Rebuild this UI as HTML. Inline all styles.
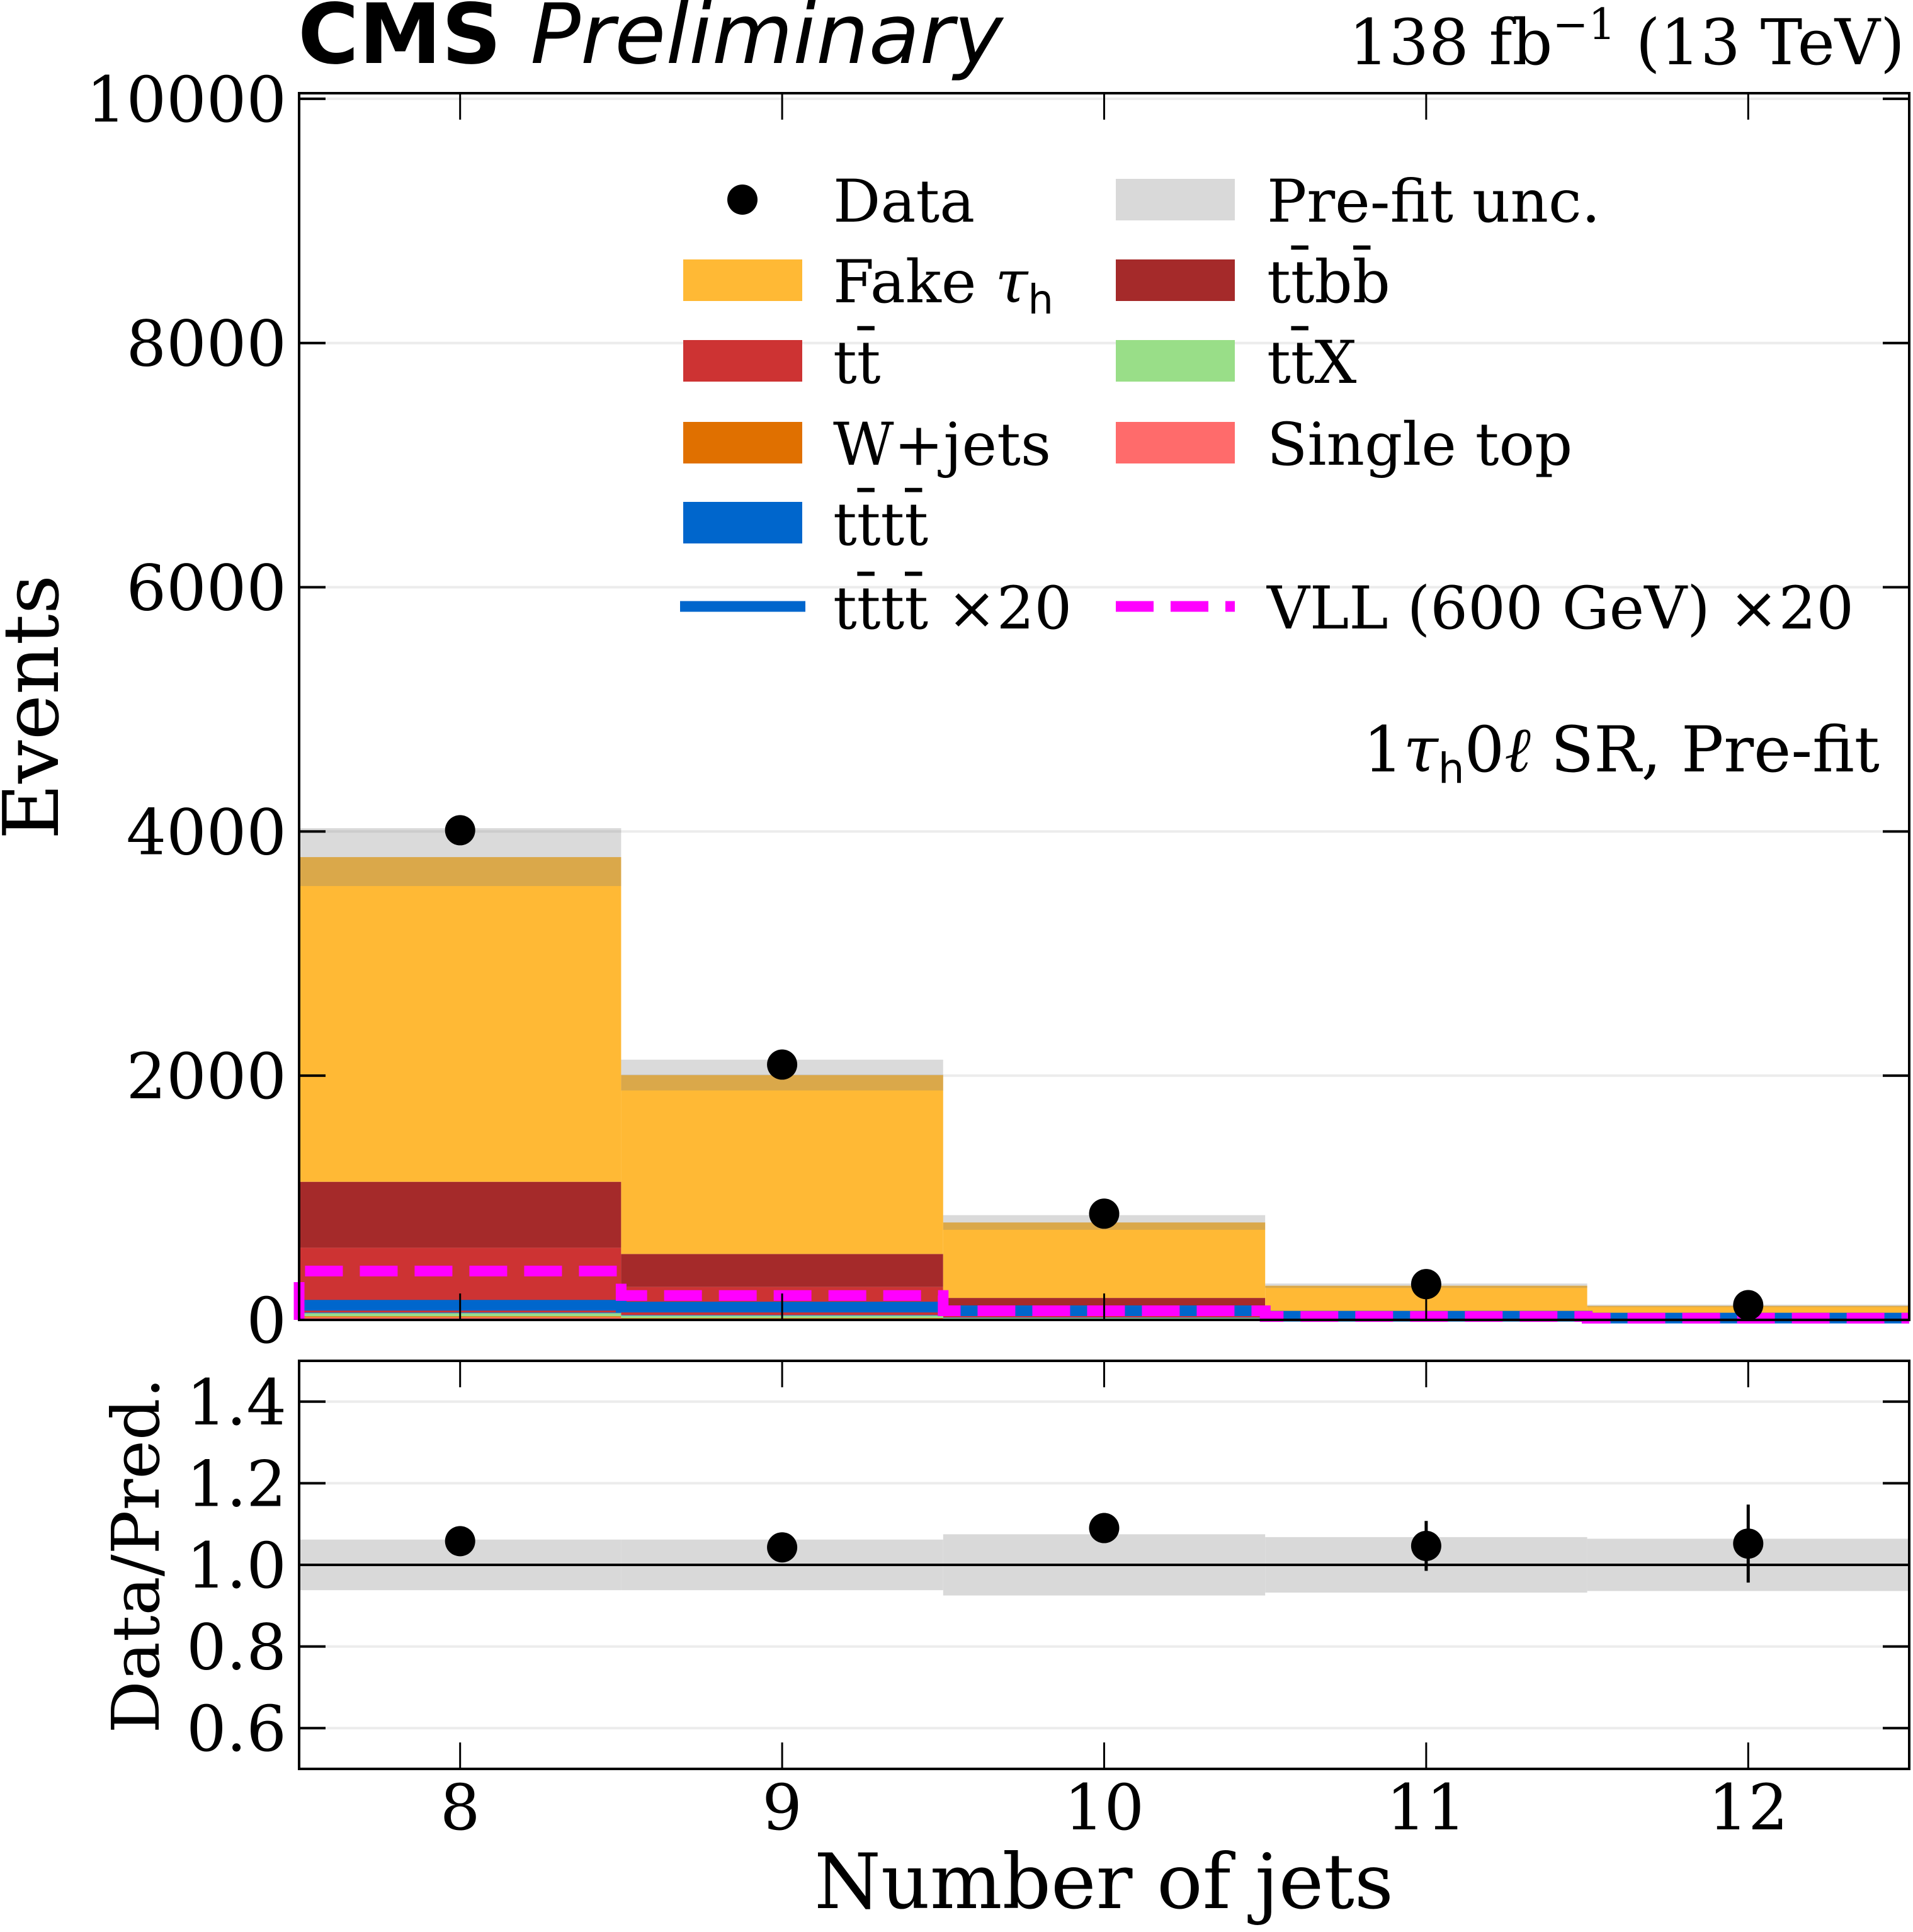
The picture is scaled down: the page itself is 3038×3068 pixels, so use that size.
<!DOCTYPE html>
<html><head><meta charset="utf-8">
<style>
html,body{margin:0;padding:0;background:#fff;}
svg{display:block;}
text{font-family:"DejaVu Serif","Liberation Serif",serif;fill:#000;}
.sans{font-family:"DejaVu Sans","Liberation Sans",sans-serif;}
</style></head>
<body>
<svg id="chart" width="3038" height="3068" viewBox="0 0 3038 3068" xmlns="http://www.w3.org/2000/svg">
<g id="main"></g>
<g id="ratio"></g>
<g id="labels">
<text class="sans" x="473" y="100" font-size="132" font-weight="bold">CMS <tspan font-weight="normal" font-style="italic">Preliminary</tspan></text>
<text x="3025" y="102" font-size="100" text-anchor="end">138 fb<tspan dy="-40" font-size="68">−1</tspan><tspan dy="40"> (13 TeV)</tspan></text>
<text x="2985" y="1225" font-size="100" text-anchor="end">1<tspan font-style="italic">τ</tspan><tspan class="sans" font-size="66" dy="18">h</tspan><tspan dy="-18">0<tspan font-style="italic">ℓ</tspan> SR, Pre-fit</tspan></text>
<text x="0" y="0" font-size="122" text-anchor="middle" transform="translate(92,1123) rotate(-90)">Events</text>
<text x="0" y="0" font-size="104" text-anchor="middle" transform="translate(252,2470) rotate(-90)">Data/Pred.</text>
<text x="1753" y="3030" font-size="121" text-anchor="middle">Number of jets</text>
</g>
<g id="legend"></g>
</svg>
<script>
const categories = [8, 9, 10, 11, 12];
const singleTop = [20, 10, 5, 3, 1];
const wJets = [10, 5, 3, 2, 1];
const ttX = [25, 20, 8, 4, 2];
const tttt = [6, 5, 4, 2, 1];
const ttbar = [530, 230, 20, 5, 2];
const ttbb = [540, 270, 140, 15, 5];
const fakeTau = [2659, 1465, 618, 249, 103];
const uncHalf = [237, 126, 60, 18, 10];
const ratioUnc = [0.062, 0.062, 0.075, 0.068, 0.064];
const dataVals = [4010, 2091, 870, 293, 121];
const ttttX20 = [120, 105, 75, 30, 15];
const vllX20 = [400, 200, 75, 28, 14];
const yTicks = [0, 2000, 4000, 6000, 8000, 10000];
const yTickLabels = ["0", "2000", "4000", "6000", "8000", "10000"];
const rTicks = [0.6, 0.8, 1.0, 1.2, 1.4];
const rTickLabels = ["0.6", "0.8", "1.0", "1.2", "1.4"];

const NS = "http://www.w3.org/2000/svg";
const L = 475, R = 3032;
const mT = 148, mB = 2096, yMax = 10046;
const rT = 2161, rB = 2809, rMin = 0.5, rMax = 1.5;
const xs = v => L + (v - 7.5) / 5 * (R - L);
const ys = v => mB - v / yMax * (mB - mT);
const yr = v => rB - (v - rMin) / (rMax - rMin) * (rB - rT);
const bw = (R - L) / 5;
const TF = 100;

function mk(tag, attrs, parent) {
  const e = document.createElementNS(NS, tag);
  for (const k in attrs) e.setAttribute(k, attrs[k]);
  parent.appendChild(e);
  return e;
}
const main = document.getElementById('main');
const ratio = document.getElementById('ratio');
const leg = document.getElementById('legend');

yTicks.forEach((t, i) => {
  if (t === 0) return;
  const g = mk('line', {x1: L, x2: R, y1: ys(t), y2: ys(t), stroke: '#ececec', 'stroke-width': 4}, main);
  
  
});
rTicks.forEach(t => {
  const g = mk('line', {x1: L, x2: R, y1: yr(t), y2: yr(t), stroke: '#ececec', 'stroke-width': 4}, ratio);
  
  
});

const layers = [
  ['single-top', singleTop, '#ff6b6b'],
  ['w-jets', wJets, '#e07000'],
  ['ttx', ttX, '#99de88'],
  ['tttt', tttt, '#0066cc'],
  ['ttbar', ttbar, '#cd3333'],
  ['ttbb', ttbb, '#a52a2a'],
  ['fake-tau', fakeTau, '#ffb935']
];
const totals = categories.map(() => 0);
layers.forEach(([name, vals, col]) => {
  vals.forEach((v, i) => {
    const y0 = totals[i], y1 = y0 + v;
    const r = mk('rect', {x: xs(categories[i] - 0.5), width: bw, y: ys(y1), height: ys(y0) - ys(y1), fill: col}, main);
    
    
    totals[i] = y1;
  });
});
categories.forEach((c, i) => {
  const r = mk('rect', {x: xs(c - 0.5), width: bw, y: ys(totals[i] + uncHalf[i]), height: ys(totals[i] - uncHalf[i]) - ys(totals[i] + uncHalf[i]), fill: '#808080', 'fill-opacity': 0.29}, main);
  
  
});
function stepPath(vals) {
  let d = '';
  vals.forEach((v, i) => {
    const x0 = xs(categories[i] - 0.5), x1 = xs(categories[i] + 0.5);
    d += (i === 0 ? 'M' + x0 + ',' + ys(0) + ' L' : ' L') + x0 + ',' + ys(v) + ' L' + x1 + ',' + ys(v);
  });
  return d;
}
const tl = mk('path', {d: stepPath(ttttX20), fill: 'none', stroke: '#0066cc', 'stroke-width': 17}, main);


const vl = mk('path', {d: stepPath(vllX20), fill: 'none', stroke: '#ff00ff', 'stroke-width': 17, 'stroke-dasharray': '60 27'}, main);



categories.forEach((c, i) => {
  const e = Math.sqrt(dataVals[i]);
  const l = mk('line', {x1: xs(c), x2: xs(c), y1: ys(dataVals[i] + e), y2: ys(dataVals[i] - e), stroke: '#000', 'stroke-width': 5}, main);
  
  
  const p = mk('circle', {cx: xs(c), cy: ys(dataVals[i]), r: 24, fill: '#000'}, main);
  
  
});

categories.forEach((c, i) => {
  const b = mk('rect', {x: xs(c - 0.5), width: bw, y: yr(1 + ratioUnc[i]), height: yr(1 - ratioUnc[i]) - yr(1 + ratioUnc[i]), fill: '#d9d9d9'}, ratio);
  
  
});
const r1 = mk('line', {x1: L, x2: R, y1: yr(1), y2: yr(1), stroke: '#000', 'stroke-width': 4}, ratio);


categories.forEach((c, i) => {
  const rv = dataVals[i] / totals[i];
  const re = Math.sqrt(dataVals[i]) / totals[i];
  const l = mk('line', {x1: xs(c), x2: xs(c), y1: yr(rv + re), y2: yr(rv - re), stroke: '#000', 'stroke-width': 5}, ratio);
  
  
  const p = mk('circle', {cx: xs(c), cy: yr(rv), r: 24, fill: '#000'}, ratio);
  
  
});

[[mT, mB, main], [rT, rB, ratio]].forEach(([t, b, g]) => {
  const f = mk('rect', {x: L, y: t, width: R - L, height: b - t, fill: 'none', stroke: '#000', 'stroke-width': 4}, g);
  
  
  categories.forEach(c => {
    const a = mk('line', {x1: xs(c), x2: xs(c), y1: b, y2: b - 42, stroke: '#000', 'stroke-width': 3}, g);
    
    
    const a2 = mk('line', {x1: xs(c), x2: xs(c), y1: t, y2: t + 42, stroke: '#000', 'stroke-width': 3}, g);
    
    
  });
});
yTicks.forEach((t, i) => {
  [[L, L + 42], [R, R - 42]].forEach(([a, b]) => {
    const k = mk('line', {x1: a, x2: b, y1: ys(t), y2: ys(t), stroke: '#000', 'stroke-width': 4}, main);
    
    
  });
  const tx = mk('text', {x: 455, y: ys(t) + 36, 'font-size': TF, 'text-anchor': 'end'}, main);
  tx.textContent = yTickLabels[i];
  
  
});
rTicks.forEach((t, i) => {
  [[L, L + 42], [R, R - 42]].forEach(([a, b]) => {
    const k = mk('line', {x1: a, x2: b, y1: yr(t), y2: yr(t), stroke: '#000', 'stroke-width': 4}, ratio);
    
    
  });
  const tx = mk('text', {x: 455, y: yr(t) + 36, 'font-size': TF, 'text-anchor': 'end'}, ratio);
  tx.textContent = rTickLabels[i];
  
  
});
categories.forEach(c => {
  const tx = mk('text', {x: xs(c), y: 2905, 'font-size': TF, 'text-anchor': 'middle'}, ratio);
  tx.textContent = String(c);
  
  
});

const rowsY = [317, 445, 573, 703, 830, 963];
function legText(x, y, html, name) {
  const t = mk('text', {x: x, y: y + 35, 'font-size': 94}, leg);
  t.innerHTML = html;
  
  
}
function legBox(x, y, col, name) {
  const r = mk('rect', {x: x, y: y - 33, width: 189, height: 66, fill: col}, leg);
  
  
}
const c1 = 1085, c2 = 1772, t1 = 1323, t2 = 2012;
const dm = mk('circle', {cx: 1179, cy: rowsY[0], r: 24, fill: '#000'}, leg);


legText(t1, rowsY[0], 'Data', 'legend-data');
legBox(c1, rowsY[1], '#ffb935', 'legend-fake-swatch');
legText(t1, rowsY[1], 'Fake <tspan font-style="italic">τ</tspan><tspan class="sans" font-size="64" dy="18">h</tspan>', 'legend-fake');
legBox(c1, rowsY[2], '#cd3333', 'legend-tt-swatch');
legText(t1, rowsY[2], 'tt̄', 'legend-tt');
legBox(c1, rowsY[3], '#e07000', 'legend-wjets-swatch');
legText(t1, rowsY[3], 'W+jets', 'legend-wjets');
legBox(c1, rowsY[4], '#0066cc', 'legend-tttt-swatch');
legText(t1, rowsY[4], 'tt̄tt̄', 'legend-tttt');
const ll = mk('line', {x1: c1 - 5, x2: c1 + 194, y1: rowsY[5], y2: rowsY[5], stroke: '#0066cc', 'stroke-width': 17}, leg);


legText(t1, rowsY[5], 'tt̄tt̄ ×20', 'legend-tttt-x20');
legBox(c2, rowsY[0], '#d9d9d9', 'legend-unc-swatch');
legText(t2, rowsY[0], 'Pre-fit unc.', 'legend-unc');
legBox(c2, rowsY[1], '#a52a2a', 'legend-ttbb-swatch');
legText(t2, rowsY[1], 'tt̄bb̄', 'legend-ttbb');
legBox(c2, rowsY[2], '#99de88', 'legend-ttx-swatch');
legText(t2, rowsY[2], 'tt̄X', 'legend-ttx');
legBox(c2, rowsY[3], '#ff6b6b', 'legend-singletop-swatch');
legText(t2, rowsY[3], 'Single top', 'legend-singletop');
const vv = mk('line', {x1: c2, x2: c2 + 189, y1: rowsY[5], y2: rowsY[5], stroke: '#ff00ff', 'stroke-width': 17, 'stroke-dasharray': '60 27'}, leg);


legText(t2, rowsY[5], 'VLL (600 GeV) ×20', 'legend-vll');
</script>
</body></html>
